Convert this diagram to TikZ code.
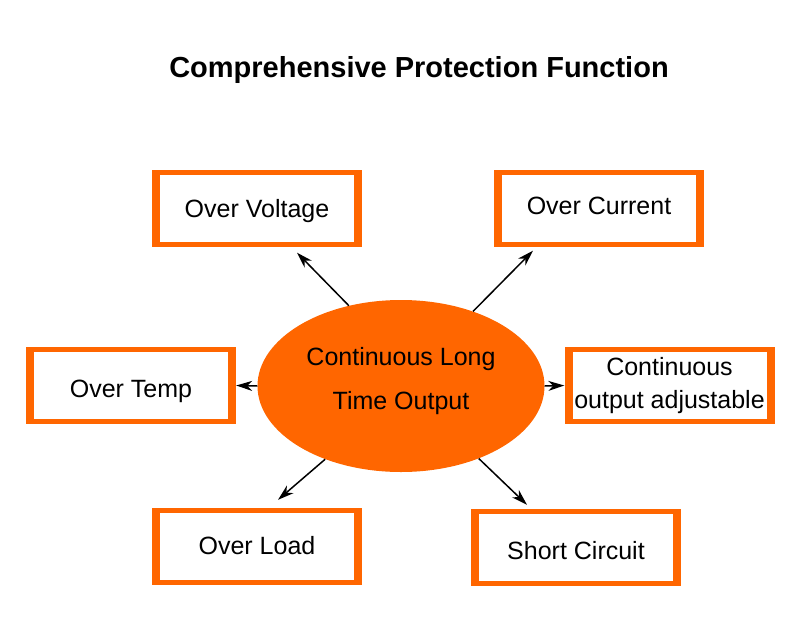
\documentclass[tikz,border=0pt]{standalone}
\usepackage{fontspec}
\setmainfont{Liberation Sans}
\usepackage{tikz}
\usetikzlibrary{arrows.meta,shapes.geometric}
\definecolor{protorange}{RGB}{255,102,0}

\begin{document}
\begin{tikzpicture}[x=1pt,y=-1pt,>={Stealth[length=16pt,width=10pt,inset=5pt]},
	protbox/.style={fill=protorange,minimum width=210pt,minimum height=77pt,inner sep=0pt,align=center,
		font=\fontsize{25}{33}\selectfont,
		path picture={\fill[white] ([shift={(8pt,5pt)}]path picture bounding box.south west) rectangle ([shift={(-8pt,-5pt)}]path picture bounding box.north east);}},
	oneline/.style={protbox,text height=18pt,text depth=0pt},
	centre/.style={ellipse,fill=protorange,minimum width=287pt,minimum height=172pt,inner sep=0pt},
	link/.style={->,line width=1.5pt}]
	\useasboundingbox (0,0) rectangle (800,626);

	\node [font=\fontsize{29}{35}\selectfont\bfseries]	(title)	at (419,70)		{Comprehensive Protection Function};

	\node [centre,label={[yshift=5pt,align=center,font=\fontsize{25}{44}\selectfont]center:Continuous Long\\Time Output}]	(ell)	at (401,386)	{};

	% text sits a little off centre in some boxes
	\node [oneline]						(ov)	at (257,208)		{Over Voltage};
	\node [oneline,text depth=6pt]		(oc)	at (599,208)		{Over Current};
	\node [oneline,text height=23pt]	(ot)	at (131,385.5)		{Over Temp};
	\node [protbox]						(ca)	at (669.5,385.5)	{Continuous\\output adjustable};
	\node [oneline,text depth=3pt]		(ol)	at (257,546.5)		{Over Load};
	\node [oneline,text height=23pt]	(sc)	at (576,547.5)		{Short Circuit};

	\path [link]
		(ell.123)	edge	([shift={(40pt,-6pt)}]ov.south)
		(ell.46)	edge	([shift={(-66pt,-4pt)}]oc.south)
		(ell.west)	edge	(ot.east)
		(ell.east)	edge	(ca.west)
		(ell.224)	edge	([shift={(21pt,8pt)}]ol.north)
		(ell.317)	edge	([shift={(-49pt,4pt)}]sc.north)
	;
\end{tikzpicture}
\end{document}
